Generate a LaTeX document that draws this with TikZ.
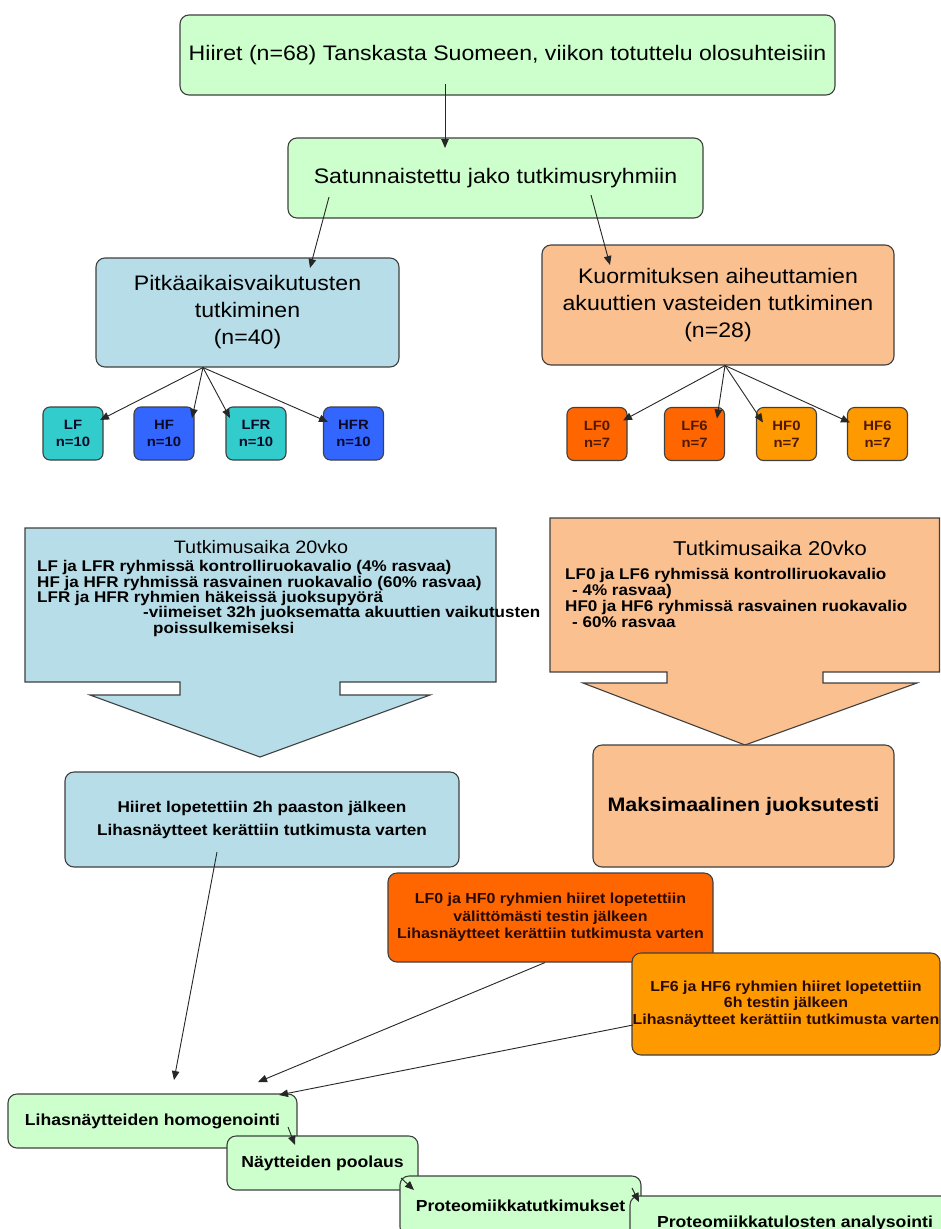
\documentclass[tikz,border=0pt]{standalone}
\usepackage{fontspec}
\setmainfont{Liberation Sans}[FakeStretch=1.1]
\usetikzlibrary{calc,arrows.meta}

\definecolor{mint}{RGB}{204,255,204}
\definecolor{paleblue}{RGB}{183,222,232}
\definecolor{peach}{RGB}{250,192,144}
\definecolor{groupteal}{RGB}{51,204,204}
\definecolor{groupblue}{RGB}{51,102,255}
\definecolor{groupred}{RGB}{255,102,0}
\definecolor{grouporange}{RGB}{255,153,0}
\definecolor{navytext}{RGB}{10,10,40}
\definecolor{browntext}{RGB}{80,25,0}
\definecolor{darktext}{RGB}{40,10,0}

\tikzset{
  box/.style={draw=black!75, line width=1.1pt, rounded corners=9pt, align=center, inner sep=0pt},
  greenbox/.style={box, fill=mint},
  bluebox/.style={box, fill=paleblue},
  peachbox/.style={box, fill=peach},
  groupbox/.style={box, rounded corners=7pt, minimum width=60pt, minimum height=53pt,
    font=\fontsize{13.5}{17}\selectfont\bfseries},
  stepbox/.style={greenbox, minimum height=54pt, font=\fontsize{16}{19}\selectfont\bfseries},
  callout/.style={draw=black!75, line width=1.1pt},
  conn/.style={-{Triangle[length=9pt,width=7.5pt]}, line width=0.9pt, black!85}
}

\begin{document}
\begin{tikzpicture}[x=1pt,y=-1pt]
  \clip (0,0) rectangle (941,1229);
  \fill[white] (0,0) rectangle (941,1229);

  % start and randomisation
  \node[greenbox, minimum width=655pt, minimum height=80pt, font=\fontsize{21}{25}\selectfont] (top) at (507.5,55)
    {Hiiret (n=68) Tanskasta Suomeen, viikon totuttelu olosuhteisiin};
  \node[greenbox, minimum width=415pt, minimum height=80pt, font=\fontsize{21}{25}\selectfont] (rand) at (495.5,178)
    {Satunnaistettu jako tutkimusryhmiin};
  \node[bluebox, minimum width=303pt, minimum height=109pt, font=\fontsize{21}{27}\selectfont] (long) at (247.5,312.5)
    {Pitkäaikaisvaikutusten\\tutkiminen\\(n=40)};
  \node[peachbox, minimum width=352pt, minimum height=120pt, font=\fontsize{21}{27}\selectfont] (acute) at (718,305)
    {Kuormituksen aiheuttamien\\akuuttien vasteiden tutkiminen\\(n=28)};

  % groups
  \node[groupbox, fill=groupteal, text=navytext] (lf) at (73,433.5) {LF\\n=10};
  \node[groupbox, fill=groupblue, text=navytext] (hf) at (164,433.5) {HF\\n=10};
  \node[groupbox, fill=groupteal, text=navytext] (lfr) at (256,433.5) {LFR\\n=10};
  \node[groupbox, fill=groupblue, text=navytext] (hfr) at (353.5,433.5) {HFR\\n=10};
  \node[groupbox, fill=groupred, text=browntext] (lf0) at (597,434) {LF0\\n=7};
  \node[groupbox, fill=groupred, text=browntext] (lf6) at (694.5,434) {LF6\\n=7};
  \node[groupbox, fill=grouporange, text=browntext] (hf0) at (786.5,434) {HF0\\n=7};
  \node[groupbox, fill=grouporange, text=browntext] (hf6) at (877.5,434) {HF6\\n=7};

  % 20 week block arrows
  \draw[callout, fill=paleblue] (25,528) -- (496,528) -- (496,682) -- (340,682) -- (340,695) -- (430,695)
    -- (260,757) -- (90,695) -- (180,695) -- (180,682) -- (25,682) -- cycle;
  \node[inner sep=0pt, font=\fontsize{18}{22}\selectfont] (lefthead) at (261,547) {Tutkimusaika 20vko};
  \node[anchor=west, align=left, inner sep=0pt, font=\fontsize{15.5}{15.3}\selectfont\bfseries] (leftdiet) at (37,598.5)
    {LF ja LFR ryhmissä kontrolliruokavalio (4\% rasvaa)\\
     HF ja HFR ryhmissä rasvainen ruokavalio (60\% rasvaa)\\
     LFR ja HFR ryhmien häkeissä juoksupyörä\\
     \hspace*{106pt}-viimeiset 32h juoksematta akuuttien vaikutusten\\
     \hspace*{116pt}poissulkemiseksi};

  \draw[callout, fill=peach] (550,518) -- (939.5,518) -- (939.5,672) -- (823,672) -- (823,683) -- (917,683)
    -- (745,745) -- (583,683) -- (667,683) -- (667,672) -- (550,672) -- cycle;
  \node[inner sep=0pt, font=\fontsize{20}{24}\selectfont] (righthead) at (770,548) {Tutkimusaika 20vko};
  \node[anchor=west, align=left, inner sep=0pt, font=\fontsize{15.5}{16.3}\selectfont\bfseries] (rightdiet) at (565,598)
    {LF0 ja LF6 ryhmissä kontrolliruokavalio\\
     \hspace*{7pt}- 4\% rasvaa)\\
     HF0 ja HF6 ryhmissä rasvainen ruokavalio\\
     \hspace*{7pt}- 60\% rasvaa};

  % end of study
  \node[bluebox, minimum width=394pt, minimum height=95pt, font=\fontsize{15.6}{23}\selectfont\bfseries] (kill) at (262,819.5)
    {Hiiret lopetettiin 2h paaston jälkeen\\Lihasnäytteet kerättiin tutkimusta varten};
  \node[peachbox, minimum width=301pt, minimum height=122pt, font=\fontsize{19.5}{24}\selectfont\bfseries] (runtest) at (743.5,806)
    {Maksimaalinen juoksutesti};
  \node[box, fill=groupred, text=darktext, minimum width=325pt, minimum height=89pt,
    font=\fontsize{14.5}{17.5}\selectfont\bfseries] (killnow) at (550.5,917.5)
    {LF0 ja HF0 ryhmien hiiret lopetettiin\\välittömästi testin jälkeen\\Lihasnäytteet kerättiin tutkimusta varten};
  \node[box, fill=grouporange, text=darktext, minimum width=308pt, minimum height=102pt,
    font=\fontsize{14.5}{16.5}\selectfont\bfseries] (killlater) at (786,1004)
    {LF6 ja HF6 ryhmien hiiret lopetettiin\\6h testin jälkeen\\Lihasnäytteet kerättiin tutkimusta varten};

  % sample processing
  \node[stepbox, minimum width=289pt] (homog) at (152.5,1121) {Lihasnäytteiden homogenointi};
  \node[stepbox, minimum width=191pt] (pool) at (322.5,1163) {Näytteiden poolaus};
  \node[stepbox, minimum width=241pt, minimum height=60pt] (prot) at (520.5,1206) {Proteomiikkatutkimukset};
  \node[stepbox, minimum width=330pt] (analysis) at (795,1223) {Proteomiikkatulosten analysointi};

  % connectors
  \draw[conn] ($(top)+(-62.5,29)$) -- ($(rand)+(-50.5,-30)$);
  \draw[conn] ($(rand)+(-166.5,19)$) -- ($(long)+(62.5,-44.5)$);
  \draw[conn] ($(rand)+(95.5,17)$) -- ($(acute)+(-108,-40)$);
  \foreach \g/\ox/\oy in {lf/27/-13.5, hf/28/-15.5, lfr/-26/-15.5, hfr/-25.5/-11.5}
    \draw[conn] ($(long.south)+(-44.5,0)$) -- ($(\g)+(\ox,\oy)$);
  \foreach \g/\ox/\oy in {lf0/26/-13.5, lf6/22.5/-15.5, hf0/-23.5/-11.5, hf6/-27.5/-11.5}
    \draw[conn] ($(acute.south)+(7,0)$) -- ($(\g)+(\ox,\oy)$);
  \draw[conn] ($(kill)+(-45,32.5)$) -- ($(homog)+(21.5,-41)$);
  \draw[conn] ($(killnow.south)+(-5.5,0)$) -- ($(homog)+(105.5,-39)$);
  \draw[conn] ($(killlater)+(-153,21)$) -- ($(homog)+(126.5,-26)$);
  \draw[conn] ($(homog)+(135.5,6)$) -- ($(pool)+(-27.5,-18)$);
  \draw[conn] ($(pool)+(78.5,15)$) -- ($(prot)+(-106.5,-16)$);
  \draw[conn] ($(prot)+(111.5,-18)$) -- ($(analysis)+(-156,-21)$);
\end{tikzpicture}
\end{document}
